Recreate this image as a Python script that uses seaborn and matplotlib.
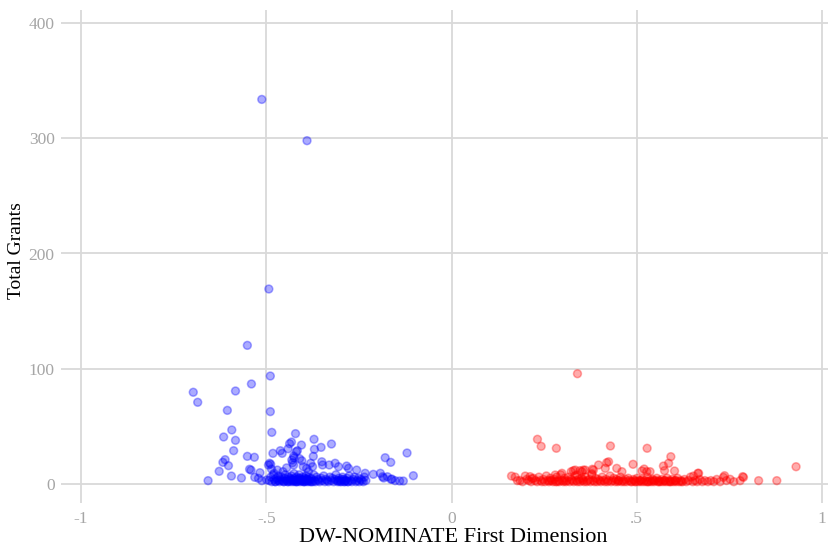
import matplotlib
matplotlib.use("Agg")
import matplotlib.pyplot as plt
import seaborn as sns
import pandas as pd

# ---- Democrats (blue) ----
dem_x = [
    -0.512, -0.390, -0.493, -0.551, -0.489, -0.697, -0.583, -0.540, -0.685, -0.605,
    -0.489, -0.593, -0.615, -0.583, -0.485, -0.421, -0.371, -0.324, -0.432, -0.437,
    -0.405, -0.352, -0.370, -0.588, -0.462, -0.441, -0.419, -0.482, -0.457, -0.426,
    -0.373, -0.179, -0.120, -0.164, -0.551, -0.532, -0.611, -0.617, -0.602, -0.627,
    -0.594, -0.657, -0.567, -0.545, -0.541, -0.531, -0.517, -0.521, -0.512, -0.491,
    -0.488, -0.494, -0.103, -0.183, -0.163, -0.152, -0.140, -0.130, -0.416, -0.425,
    -0.479, -0.470, -0.455, -0.431, -0.429, -0.426, -0.404, -0.400, -0.391, -0.386,
    -0.380, -0.375, -0.350, -0.348, -0.330, -0.314, -0.305, -0.283, -0.278, -0.256,
    -0.233, -0.211, -0.192, -0.186, -0.173, -0.161, -0.486, -0.499, -0.445, -0.410,
    # dense band
    -0.492, -0.488, -0.485, -0.481, -0.478, -0.476, -0.472, -0.469, -0.467, -0.464,
    -0.462, -0.459, -0.456, -0.453, -0.451, -0.449, -0.446, -0.444, -0.442, -0.440,
    -0.438, -0.436, -0.434, -0.432, -0.430, -0.429, -0.427, -0.425, -0.423, -0.422,
    -0.420, -0.418, -0.416, -0.415, -0.413, -0.411, -0.409, -0.408, -0.406, -0.404,
    -0.402, -0.400, -0.399, -0.397, -0.395, -0.393, -0.391, -0.390, -0.388, -0.386,
    -0.384, -0.381, -0.379, -0.377, -0.374, -0.372, -0.370, -0.367, -0.364, -0.361,
    -0.359, -0.356, -0.352, -0.349, -0.345, -0.342, -0.339, -0.335, -0.332, -0.328,
    -0.325, -0.322, -0.318, -0.315, -0.312, -0.309, -0.307, -0.304, -0.300, -0.297,
    -0.294, -0.291, -0.288, -0.285, -0.282, -0.279, -0.276, -0.272, -0.269, -0.265,
    -0.262, -0.258, -0.255, -0.251, -0.249, -0.245, -0.242, -0.238, -0.235, -0.231,
    -0.441, -0.433, -0.426, -0.419, -0.412, -0.405, -0.398, -0.392, -0.385, -0.378,
    -0.305, -0.301, -0.296, -0.290, -0.286, -0.280, -0.452, -0.465, -0.475, -0.395,
]
dem_y = [
    333.7, 297.9, 169.2, 120.3, 93.7, 79.6, 80.7, 86.8, 70.9, 63.9,
    62.8, 46.9, 40.8, 37.9, 44.8, 43.7, 38.8, 34.7, 36.4, 35.0,
    33.8, 31.8, 30.1, 28.9, 28.9, 30.6, 28.0, 26.6, 26.6, 24.3,
    24.0, 22.8, 26.9, 18.8, 24.0, 23.2, 21.1, 18.8, 15.9, 11.0,
    6.9, 2.9, 5.2, 12.8, 12.0, 5.8, 9.8, 4.9, 2.9, 18.0,
    17.1, 16.5, 7.2, 5.2, 4.0, 2.9, 2.6, 2.6, 28.9, 22.8,
    9.3, 12.1, 10.7, 20.8, 18.5, 16.5, 20.2, 15.0, 13.6, 10.7,
    18.0, 15.0, 19.3, 16.5, 16.5, 18.0, 15.0, 15.6, 13.6, 12.1,
    9.3, 8.4, 9.3, 6.3, 6.3, 4.3, 13.0, 3.5, 14.0, 22.0,
    # dense band
    3, 6, 2, 8, 4, 2, 5, 3, 7, 2,
    4, 6, 3, 2, 5, 8, 3, 4, 2, 6,
    3, 5, 2, 7, 4, 3, 2, 9, 5, 3,
    2, 6, 4, 2, 3, 8, 5, 2, 4, 3,
    6, 2, 3, 5, 2, 7, 3, 4, 2, 6,
    3, 2, 5, 4, 2, 8, 3, 2, 6, 4,
    3, 2, 5, 3, 7, 2, 4, 3, 2, 6,
    3, 5, 2, 4, 8, 3, 2, 5, 3, 2,
    6, 4, 2, 3, 5, 2, 7, 3, 2, 4,
    6, 2, 3, 5, 2, 4, 3, 2, 6, 3,
    2, 4, 3, 2, 5, 3, 2, 4, 3, 2,
    3, 2, 4, 2, 3, 2, 2, 3, 2, 4,
]

# ---- Republicans (red) ----
rep_x = [
    0.340, 0.232, 0.242, 0.283, 0.429, 0.528, 0.592, 0.586, 0.572, 0.575,
    0.930, 0.424, 0.397, 0.415, 0.446, 0.490, 0.520, 0.536, 0.602, 0.380,
    0.361, 0.329, 0.347, 0.338, 0.162, 0.178, 0.199, 0.212, 0.217, 0.667,
    0.653, 0.734, 0.752, 0.788, 0.779, 0.829, 0.878, 0.334, 0.352, 0.383,
    0.419, 0.460, 0.280, 0.298, 0.323, 0.356, 0.379, 0.514, 0.527, 0.665,
    0.737, 0.786,
    # dense band
    0.172, 0.185, 0.192, 0.203, 0.208, 0.215, 0.221, 0.226, 0.231, 0.236,
    0.240, 0.244, 0.248, 0.252, 0.256, 0.260, 0.263, 0.267, 0.270, 0.274,
    0.277, 0.281, 0.284, 0.288, 0.291, 0.295, 0.298, 0.302, 0.305, 0.309,
    0.312, 0.316, 0.319, 0.323, 0.326, 0.330, 0.333, 0.337, 0.340, 0.344,
    0.347, 0.351, 0.354, 0.358, 0.361, 0.365, 0.368, 0.372, 0.375, 0.379,
    0.382, 0.386, 0.389, 0.393, 0.396, 0.400, 0.403, 0.407, 0.410, 0.414,
    0.417, 0.421, 0.424, 0.428, 0.431, 0.435, 0.438, 0.442, 0.445, 0.449,
    0.452, 0.456, 0.459, 0.463, 0.466, 0.470, 0.473, 0.477, 0.480, 0.484,
    0.487, 0.491, 0.494, 0.498, 0.501, 0.505, 0.508, 0.512, 0.515, 0.519,
    0.522, 0.526, 0.529, 0.533, 0.536, 0.540, 0.543, 0.547, 0.550, 0.554,
    0.557, 0.561, 0.564, 0.568, 0.571, 0.575, 0.578, 0.582, 0.585, 0.589,
    0.592, 0.596, 0.599, 0.603, 0.606, 0.610, 0.614, 0.619, 0.624, 0.629,
    0.634, 0.640, 0.645, 0.651, 0.657, 0.663, 0.670, 0.677, 0.684, 0.692,
    0.700, 0.708, 0.716, 0.725, 0.742, 0.762, 0.495, 0.510, 0.530, 0.545,
    0.560, 0.575, 0.590, 0.605, 0.620, 0.265, 0.285, 0.305, 0.355, 0.450,
]
rep_y = [
    95.7, 38.8, 32.7, 31.0, 33.0, 31.0, 23.7, 18.0, 15.6, 11.6,
    15.0, 19.3, 16.5, 13.6, 13.6, 17.1, 13.0, 10.7, 11.3, 12.8,
    12.1, 11.6, 11.6, 7.8, 6.9, 2.9, 6.9, 6.4, 4.6, 9.3,
    6.9, 5.8, 4.1, 5.8, 2.9, 2.9, 2.9, 12.1, 10.7, 12.1,
    18.5, 10.7, 7.8, 9.3, 10.7, 12.1, 9.0, 11.3, 10.7, 9.3,
    7.2, 6.4,
    # dense band
    6, 3, 2, 4, 3, 2, 5, 3, 2, 6,
    3, 2, 4, 2, 7, 3, 2, 5, 3, 2,
    4, 2, 6, 3, 2, 8, 3, 2, 5, 2,
    3, 6, 2, 4, 3, 2, 7, 3, 2, 4,
    2, 5, 3, 2, 6, 2, 3, 4, 2, 8,
    3, 2, 5, 2, 4, 3, 2, 6, 3, 2,
    4, 2, 3, 7, 2, 3, 5, 2, 4, 2,
    3, 6, 2, 3, 2, 4, 2, 5, 3, 2,
    2, 4, 3, 2, 5, 2, 3, 2, 4, 2,
    3, 2, 6, 2, 3, 2, 4, 2, 3, 5,
    2, 3, 2, 4, 2, 3, 2, 5, 2, 3,
    2, 4, 2, 3, 2, 5, 2, 3, 2, 4,
    2, 3, 6, 2, 3, 2, 4, 2, 3, 2,
    3, 2, 4, 2, 3, 2, 2, 3, 2, 3,
    2, 3, 2, 3, 2, 3, 2, 3, 4, 3,
]

x_ticks = [-1, -0.5, 0, 0.5, 1]
x_tick_labels = ["-1", "-.5", "0", ".5", "1"]
y_ticks = [0, 100, 200, 300, 400]
y_tick_labels = ["0", "100", "200", "300", "400"]

df = pd.DataFrame({
    "dw": dem_x + rep_x,
    "grants": dem_y + rep_y,
    "party": ["D"] * len(dem_x) + ["R"] * len(rep_x),
})

sns.set_theme(style="white")
plt.rcParams["font.family"] = ["Liberation Serif", "DejaVu Serif"]

W, H = 829, 546
fig = plt.figure(figsize=(W / 100, H / 100), dpi=100)
ax_left, ax_right, ax_top, ax_bottom = 61, 829, 10, 503
ax = fig.add_axes([ax_left / W, (H - ax_bottom) / H,
                   (ax_right - ax_left) / W, (ax_bottom - ax_top) / H])

sns.scatterplot(data=df, x="dw", y="grants", hue="party",
                palette={"D": (0, 0, 1, 0.33), "R": (1, 0, 0, 0.33)},
                s=32, linewidth=1.1, legend=False, ax=ax, zorder=3)
for coll in ax.collections:
    coll.set_edgecolors(coll.get_facecolors())

px_per_x = 370.5
px_per_y = 1.1525
ax.set_xlim(-1 - (81 - ax_left) / px_per_x, 1 + (ax_right - 822) / px_per_x)
ax.set_ylim(-(ax_bottom - 484) / px_per_y, (484 - ax_top) / px_per_y)

ax.set_xticks(x_ticks)
ax.set_xticklabels(x_tick_labels)
ax.set_yticks(y_ticks)
ax.set_yticklabels(y_tick_labels)
ax.tick_params(axis="both", length=0, labelsize=12.5, labelcolor="#a6a6a6")
ax.tick_params(axis="y", pad=4.5)
ax.tick_params(axis="x", pad=6)
for lab in ax.get_xticklabels() + ax.get_yticklabels():
    lab.set_family(["Liberation Serif", "DejaVu Serif"])

ax.grid(True, color="#d9d9d9", linewidth=1.3, zorder=0)
ax.set_axisbelow(True)
for sp in ax.spines.values():
    sp.set_visible(False)
ax.set_xlabel("")
ax.set_ylabel("")

fig.text(17 / W, 1 - 251 / H, "Total Grants", rotation=90, ha="center", va="center",
         fontsize=14, color="black", family=["Liberation Serif", "DejaVu Serif"])
fig.text(453 / W, 1 - 537 / H, "DW-NOMINATE First Dimension", ha="center", va="center",
         fontsize=16, color="black", family=["Liberation Serif", "DejaVu Serif"])

fig.savefig("out.png", dpi=100, facecolor="white")
